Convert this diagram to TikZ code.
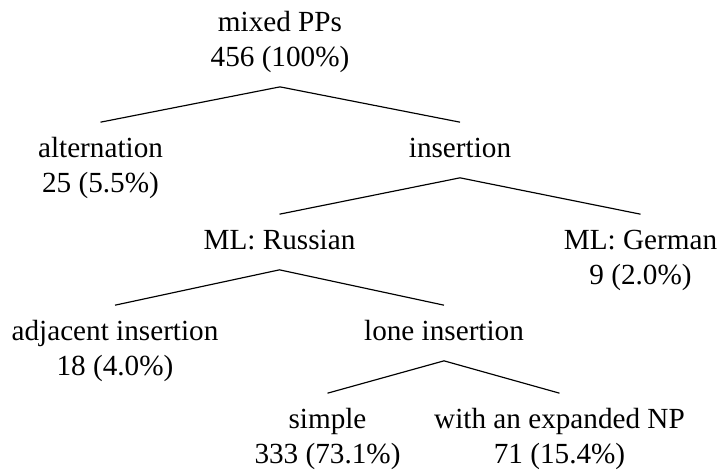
\documentclass[tikz,border=0pt]{standalone}
\usepackage{fontspec}
\setmainfont{Liberation Serif}
\begin{document}
\begin{tikzpicture}[x=0.3425pt,y=-0.3425pt,
  lbl/.style={anchor=base,inner sep=3.33pt,font=\fontsize{10}{12}\selectfont},
  edge/.style={draw=black,line width=0.4pt}]
\useasboundingbox (0,0) rectangle (717,473);
\setlength{\tabcolsep}{0pt}
\node[lbl] (root) at (280,31) {\begin{tabular}[t]{c}mixed PPs\\456 (100\%)\end{tabular}};
\node[lbl] (alt) at (100.5,157) {\begin{tabular}[t]{c}alternation\\25 (5.5\%)\end{tabular}};
\node[lbl] (ins) at (460,157) {\begin{tabular}[t]{c}insertion\end{tabular}};
\node[lbl] (rus) at (279.5,249) {\begin{tabular}[t]{c}ML: Russian\end{tabular}};
\node[lbl] (ger) at (640.5,249) {\begin{tabular}[t]{c}ML: German\\9 (2.0\%)\end{tabular}};
\node[lbl] (adj) at (115,340) {\begin{tabular}[t]{c}adjacent insertion\\18 (4.0\%)\end{tabular}};
\node[lbl] (lone) at (444,340) {\begin{tabular}[t]{c}lone insertion\end{tabular}};
\node[lbl] (simple) at (327.5,428) {\begin{tabular}[t]{c}simple\\333 (73.1\%)\end{tabular}};
\node[lbl] (np) at (559.5,428) {\begin{tabular}[t]{c}with an expanded NP\\71 (15.4\%)\end{tabular}};
\draw[edge] (alt.north) -- (root.south) -- (ins.north);
\draw[edge] (rus.north) -- (ins.south) -- (ger.north);
\draw[edge] (adj.north) -- (rus.south) -- (lone.north);
\draw[edge] (simple.north) -- (lone.south) -- (np.north);
\end{tikzpicture}
\end{document}
